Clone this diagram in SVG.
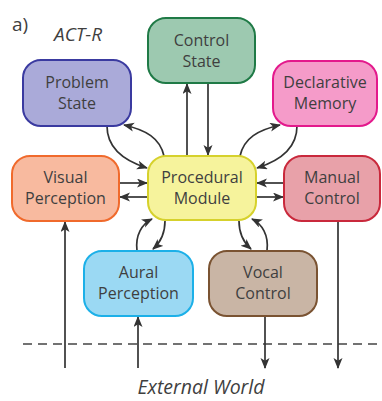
<svg xmlns="http://www.w3.org/2000/svg" width="382" height="401" viewBox="0 0 382 401">
  <defs>
    <marker id="arrow" markerUnits="userSpaceOnUse" markerWidth="12" markerHeight="10" refX="10" refY="4.5" orient="auto">
      <path d="M0,0 L11,4.5 L0,9 L2.8,4.5 z" fill="#333"/>
    </marker>
    <style>
      .node rect { stroke-width: 2; }
      .lbl { font-family: "Open Sans", "Noto Sans", sans-serif; font-size: 16px; fill: #3f3f3f; text-anchor: middle; }
      .cap { font-family: "Open Sans", "Noto Sans", sans-serif; font-style: italic; fill: #3f3f3f; }
      .conn path, .conn line { fill: none; stroke: #333; stroke-width: 1.7; }
      .arr { marker-end: url(#arrow); }
    </style>
  </defs>
  <rect width="382" height="401" fill="#fff"/>

  <text x="12" y="31" font-family="'Open Sans', 'Noto Sans', sans-serif" font-size="19" fill="#3f3f3f">a)</text>
  <text class="cap" x="54" y="41" font-size="19">ACT-R</text>
  <text class="cap" x="201" y="394" font-size="19.5" text-anchor="middle">External World</text>

  <!-- boundary to the outside world -->
  <line x1="23" y1="344" x2="382" y2="344" stroke="#444" stroke-width="1.7" stroke-dasharray="9,6"/>

  <g class="conn" id="connectors">
    <!-- control state -->
    <line class="arr" x1="187" y1="156" x2="187" y2="84"/>
    <line class="arr" x1="208" y1="83" x2="208" y2="155"/>
    <!-- problem state -->
    <path class="arr" d="M107,126 C107,150 128,162 147,168"/>
    <path class="arr" d="M164,156 C160,138 146,130 124,125"/>
    <!-- declarative memory -->
    <path class="arr" d="M297,126 C297,150 276,162 257,168"/>
    <path class="arr" d="M240,156 C244,138 258,130 280,125"/>
    <!-- visual perception -->
    <line class="arr" x1="119" y1="183" x2="147" y2="183"/>
    <line class="arr" x1="148" y1="197" x2="120" y2="197"/>
    <!-- manual control -->
    <line class="arr" x1="284" y1="183" x2="257" y2="183"/>
    <line class="arr" x1="256" y1="197" x2="283" y2="197"/>
    <!-- aural perception -->
    <path class="arr" d="M137,251 C135,235 142,224 152,219"/>
    <path class="arr" d="M165,221 C165,232 161,242 153,249"/>
    <!-- vocal control -->
    <path class="arr" d="M267,251 C269,235 262,224 252,219"/>
    <path class="arr" d="M239,221 C239,232 243,242 251,249"/>
    <!-- external world links -->
    <line class="arr" x1="65" y1="368" x2="65" y2="222"/>
    <line class="arr" x1="138" y1="368" x2="138" y2="317"/>
    <line class="arr" x1="265" y1="316" x2="265" y2="368"/>
    <line class="arr" x1="338" y1="221" x2="338" y2="368"/>
  </g>

  <g class="node" id="problem-state">
    <rect x="23" y="60" width="108" height="66" rx="18" fill="#aaaad9" stroke="#3a3aa0"/>
    <text class="lbl" x="77" y="88">Problem</text>
    <text class="lbl" x="77" y="109">State</text>
  </g>
  <g class="node" id="control-state">
    <rect x="148" y="18" width="107" height="65" rx="18" fill="#9dc9b0" stroke="#1f7a46"/>
    <text class="lbl" x="201.5" y="46">Control</text>
    <text class="lbl" x="201.5" y="67">State</text>
  </g>
  <g class="node" id="declarative-memory">
    <rect x="273" y="61" width="104" height="65" rx="18" fill="#f59bc9" stroke="#e3198c"/>
    <text class="lbl" x="325" y="88">Declarative</text>
    <text class="lbl" x="325" y="109">Memory</text>
  </g>
  <g class="node" id="visual-perception">
    <rect x="12" y="156" width="107" height="65" rx="18" fill="#f8ba9f" stroke="#f06a2c"/>
    <text class="lbl" x="65.5" y="183">Visual</text>
    <text class="lbl" x="65.5" y="204">Perception</text>
  </g>
  <g class="node" id="procedural-module">
    <rect x="148" y="156" width="108" height="64" rx="18" fill="#f6f39c" stroke="#d6d12c"/>
    <text class="lbl" x="202" y="183">Procedural</text>
    <text class="lbl" x="202" y="204">Module</text>
  </g>
  <g class="node" id="manual-control">
    <rect x="284" y="156" width="96" height="65" rx="18" fill="#e8a1a9" stroke="#c9293c"/>
    <text class="lbl" x="332" y="183">Manual</text>
    <text class="lbl" x="332" y="204">Control</text>
  </g>
  <g class="node" id="aural-perception">
    <rect x="84" y="251" width="109" height="65" rx="18" fill="#9bd9f3" stroke="#1cb0e8"/>
    <text class="lbl" x="138.5" y="278">Aural</text>
    <text class="lbl" x="138.5" y="299">Perception</text>
  </g>
  <g class="node" id="vocal-control">
    <rect x="209" y="251" width="108" height="65" rx="18" fill="#c9b5a5" stroke="#7a5332"/>
    <text class="lbl" x="263" y="278">Vocal</text>
    <text class="lbl" x="263" y="299">Control</text>
  </g>
</svg>
